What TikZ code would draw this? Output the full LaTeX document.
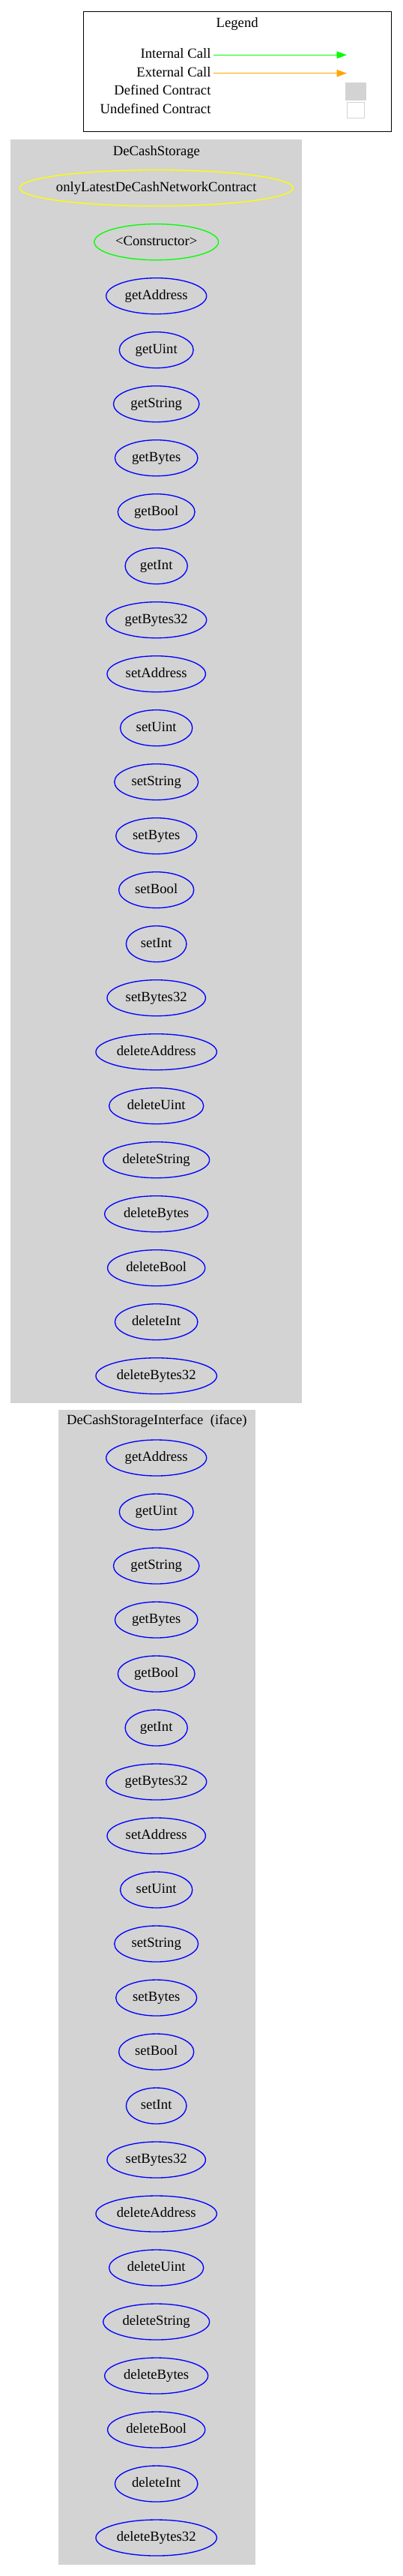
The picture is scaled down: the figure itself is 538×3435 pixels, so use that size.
\documentclass[tikz,border=0pt]{standalone}
\usepackage{fontspec}
\setmainfont{Liberation Serif}
\usetikzlibrary{shapes.geometric,arrows.meta,calc}
\definecolor{lgray}{RGB}{211,211,211}
\definecolor{gvgreen}{RGB}{0,255,0}
\definecolor{gvyellow}{RGB}{255,255,0}
\definecolor{gvorange}{RGB}{255,165,0}
\definecolor{gvblue}{RGB}{0,0,255}
\newcommand\gvfont{\fontsize{14}{16}\selectfont}
\newcommand\fnode[5]{%
  \node[txt] (#1) at (#2,#3) {#4};
  \path let \p1=($(#1.east)-(#1.west)$) in
    node[fnshape, draw=#5, minimum width={1.258*\x1+20.8pt}] (#1-e) at (#1) {};}
\tikzset{
  txt/.style={font=\gvfont, inner sep=0pt, text height=10pt, text depth=3pt},
  fnshape/.style={ellipse, line width=1pt, inner sep=0pt, minimum height=36pt},
  cluster/.style={draw=lgray, fill=lgray, line width=0.75pt, inner sep=0pt},
  lbl/.style={txt, anchor=east},
  call/.style={line width=1pt, -{Triangle[length=10pt,width=7pt]}},
}
\begin{document}
\begin{tikzpicture}[x=0.75pt,y=-0.75pt]
\useasboundingbox (0,0) rectangle (538,3435);
% legend
\node[draw=black, line width=0.75pt, minimum width=308.25pt, minimum height=120.2pt, inner sep=0pt] (legend) at (317.2,95.85) {};
\node[txt] (legtitle) at (316.7,31.7) {Legend};
\node[lbl] (lint) at (281.7,73.3) {Internal Call};
\node[lbl] (lext) at (281.7,97.7) {External Call};
\node[lbl] (ldef) at (281.7,122) {Defined Contract};
\node[lbl] (lund) at (281.7,146.5) {Undefined Contract};
\coordinate (ia) at (285,73.3);
\coordinate (ib) at (463,73.3);
\coordinate (ea) at (285,97.7);
\coordinate (eb) at (463,97.7);
\draw[call, gvgreen] (ia) -- (ib);
\draw[call, gvorange] (ea) -- (eb);
\node[draw=lgray, fill=lgray, line width=0.75pt, minimum width=20pt, minimum height=17.5pt, inner sep=0pt] (defbox) at (475.3,121.7) {};
\node[draw=lgray, fill=white, line width=0.75pt, minimum width=17pt, minimum height=16.2pt, inner sep=0pt] (undbox) at (475.3,146.8) {};
% cluster DeCashStorage
\node[cluster, minimum width=290.8pt, minimum height=1263pt] (c1) at (208.85,1028) {};
\node[txt] (c1title) at (208.85,202.7) {DeCashStorage};
\fnode{sonly}{208.7}{250.7}{onlyLatestDeCashNetworkContract}{gvyellow}
\fnode{sctor}{208.7}{322.7}{<Constructor>}{gvgreen}
\foreach \f [count=\i from 0] in {getAddress,getUint,getString,getBytes,getBool,getInt,getBytes32,setAddress,setUint,setString,setBytes,setBool,setInt,setBytes32,deleteAddress,deleteUint,deleteString,deleteBytes,deleteBool,deleteInt,deleteBytes32}{
  \pgfmathsetmacro\yy{394.7+72*\i}
  \fnode{s\f}{208.7}{\yy}{\f}{gvblue}
}
% cluster DeCashStorageInterface
\node[cluster, minimum width=196.2pt, minimum height=1154.5pt] (c2) at (209.5,2649.65) {};
\node[txt] (c2title) at (209.3,1895) {DeCashStorageInterface\ \ (iface)};
\foreach \f [count=\i from 0] in {getAddress,getUint,getString,getBytes,getBool,getInt,getBytes32,setAddress,setUint,setString,setBytes,setBool,setInt,setBytes32,deleteAddress,deleteUint,deleteString,deleteBytes,deleteBool,deleteInt,deleteBytes32}{
  \pgfmathsetmacro\yy{1944+72*\i}
  \fnode{i\f}{208.7}{\yy}{\f}{gvblue}
}
\end{tikzpicture}
\end{document}
